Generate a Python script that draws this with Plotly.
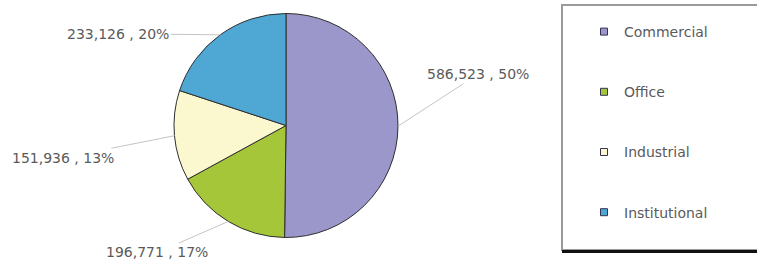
import math
import plotly.graph_objects as go

# ---- data ----
categories = ["Commercial", "Office", "Industrial", "Institutional"]
values = [586523, 196771, 151936, 233126]
colors = ["#9b97cb", "#a6c63a", "#fbf7cf", "#4fa7d4"]

# ---- styling / layout ----
W, H = 757, 263
CX, CY, R = 286, 125.5, 112          # pie centre / radius in px
label_offsets = [(80, -52), (-71, 31), (-111, 22), (-102, -1)]   # text offsets (px)
FONT = "DejaVu Sans, Arial, sans-serif"
TXT = "#5a5a5a"

fig = go.Figure()
fig.add_trace(go.Pie(
    labels=categories, values=values, sort=False, direction="clockwise", rotation=0,
    marker=dict(colors=colors, line=dict(color="#2e2e2e", width=1)),
    textinfo="none", hoverinfo="label+value+percent", showlegend=False,
    domain=dict(x=[(CX - R) / W, (CX + R) / W], y=[1 - (CY + R) / H, 1 - (CY - R) / H]),
))

# legend entries (one group each so the gap can be set)
for cat, col in zip(categories, colors):
    fig.add_trace(go.Scatter(
        x=[None], y=[None], mode="markers", name=cat, legendgroup=cat,
        marker=dict(symbol="square", size=7, color=col, line=dict(color="#333355", width=1)),
    ))

# data labels with leader lines, placed at slice mid-angles
total = sum(values)
cum = 0
annotations = []
for v, (ax, ay) in zip(values, label_offsets):
    mid = (cum + v / 2) / total * 2 * math.pi
    cum += v
    px = CX + R * math.sin(mid)
    py = CY - R * math.cos(mid)
    annotations.append(dict(
        x=px / W, y=1 - py / H, xref="paper", yref="paper",
        text=f"{v:,} , {round(v / total * 100)}%",
        showarrow=True, arrowhead=0, arrowwidth=1, arrowcolor="#c4c4c4",
        ax=ax, ay=ay, standoff=0,
        font=dict(family=FONT, size=14, color=TXT),
    ))

shapes = [
    dict(type="rect", xref="paper", yref="paper",
         x0=562 / W, x1=770 / W, y0=1 - 250 / H, y1=1 - 5 / H,
         line=dict(color="#9a9a9a", width=2), fillcolor="rgba(0,0,0,0)"),
    dict(type="line", xref="paper", yref="paper",
         x0=562 / W, x1=770 / W, y0=1 - 251.5 / H, y1=1 - 251.5 / H,
         line=dict(color="#111111", width=3)),
]

fig.update_layout(
    width=W, height=H, margin=dict(l=0, r=0, t=0, b=0),
    paper_bgcolor="white", plot_bgcolor="rgba(0,0,0,0)",
    xaxis=dict(visible=False), yaxis=dict(visible=False),
    annotations=annotations, shapes=shapes,
    legend=dict(x=584 / W, y=1 - 16 / H, xanchor="left", yanchor="top",
                font=dict(family=FONT, size=14, color=TXT),
                tracegroupgap=39, bgcolor="rgba(0,0,0,0)"),
)

fig.write_html("out.html", config={"displayModeBar": False},
               post_script="document.body.style.margin='0';")
